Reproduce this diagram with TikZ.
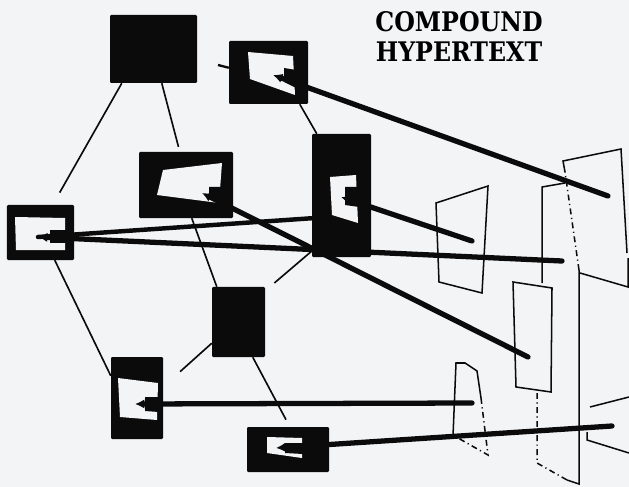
\documentclass[tikz,border=0pt]{standalone}
\usepackage{fontspec}
\usepackage{xcolor}
\usepackage{tikz}
\usetikzlibrary{arrows.meta,calc}
\newfontfamily\cptitle[FakeStretch=0.88]{DejaVu Serif}
\definecolor{CHInk}{HTML}{0B0B0C}
\definecolor{CHPaper}{HTML}{F3F4F6}
\begin{document}
\begin{tikzpicture}[x=0.03cm,y=-0.03cm,
  card/.style={fill=CHInk,draw=none,rounded corners=1pt,inner sep=0pt},
  tree/.style={CHInk,line width=1.4pt},
  link/.style={CHInk,line width=4.5pt,line cap=round},
  linktip/.style={link,{Latex[length=8pt,width=8pt]}-},
  page/.style={CHInk,line width=1.3pt},
  pagedd/.style={page,dash pattern=on 5pt off 3pt on 1pt off 3pt},
  titletext/.style={anchor=base,inner sep=0pt,font=\cptitle\bfseries\fontsize{23}{26}\selectfont}]
\path[use as bounding box] (0,0) rectangle (629,487);
\fill[CHPaper] (0,0) rectangle (629,487);
\node[titletext] (title1) at (459,32) {COMPOUND};
\node[titletext] (title2) at (459,62) {HYPERTEXT};
\node[card,minimum width=2.61cm,minimum height=2.04cm] (A) at (153.5,49) {};
\node[card,minimum width=2.37cm,minimum height=1.89cm] (B) at (268.5,72.5) {};
\node[card,minimum width=2.82cm,minimum height=1.98cm] (C) at (186,185) {};
\node[card,minimum width=2.01cm,minimum height=1.65cm] (D) at (40.5,232.5) {};
\node[card,minimum width=1.77cm,minimum height=3.69cm] (E) at (341.5,195.5) {};
\node[card,minimum width=1.59cm,minimum height=2.10cm] (F) at (238.5,322) {};
\node[card,minimum width=1.56cm,minimum height=2.46cm] (G) at (137,398) {};
\node[card,minimum width=2.46cm,minimum height=1.35cm] (H) at (288,449.5) {};
\fill[CHPaper] (248,52) -- (293,56) -- (295,95) -- (250,79) -- cycle;
\fill[CHInk] (284,68) -- (296,70) -- (296,88) -- (284,82) -- cycle;
\fill[CHPaper] (163,170) -- (222,163) -- (219,203) -- (157,195) -- cycle;
\fill[CHInk] (209,187) -- (221,187) -- (220,204) -- (209,199) -- cycle;
\fill[CHPaper] (15,217) -- (65,218) -- (65,250) -- (16,250) -- cycle;
\fill[CHInk] (50,230) -- (66,230) -- (66,243) -- (50,243) -- cycle;
\fill[CHPaper] (330,177) -- (356,175) -- (358,223) -- (332,215) -- cycle;
\fill[CHInk] (345,187) -- (359,187) -- (359,207) -- (345,205) -- cycle;
\fill[CHPaper] (118,378) -- (158,383) -- (157,420) -- (120,417) -- cycle;
\fill[CHInk] (145,397) -- (159,397) -- (159,412) -- (145,411) -- cycle;
\fill[CHPaper] (267,437) -- (302,438) -- (302,458) -- (267,453) -- cycle;
\fill[CHInk] (285,443) -- (303,443) -- (303,454) -- (285,453) -- cycle;
\coordinate (tipB) at (273,75);
\coordinate (tipC) at (202,193);
\coordinate (tipD) at (38,237);
\coordinate (tipE) at (341,197);
\coordinate (tipG) at (135,404);
\coordinate (tipH) at (276,448);
\coordinate (endB) at (608,196);
\coordinate (endC) at (528,357);
\coordinate (endD) at (562,261);
\coordinate (endE) at (472,241);
\coordinate (endG) at (472,403);
\coordinate (endH) at (612,426);
\coordinate (stubB) at (218,65);
\draw[tree] ($(A.south west)+(12,0)$) -- ($(D.north west)+(46,0)$) [shorten >=0.42cm];
\draw[tree,shorten >=0.15cm] ($(A.south west)+(52,0)$) -- ($(C.north west)+(41,0)$);
\draw[tree] ($(B.south west)+(71,0)$) -- ($(E.north west)+(5,0)$);
\draw[tree] ($(C.south west)+(53,0)$) -- ($(F.north west)+(5,0)$);
\draw[tree,shorten >=0.36cm] ($(E.south west)+(1,-7)$) -- ($(F.north east)+(0,4)$);
\draw[tree,shorten >=0.68cm] ($(F.south west)+(0,-14)$) -- ($(G.north east)+(0,30)$);
\draw[tree,shorten >=0.24cm] ($(F.south west)+(41,0)$) -- ($(H.north west)+(43,0)$);
\draw[tree] ($(D.south west)+(48,0)$) -- ($(G.north west)+(0,19)$);
\draw[CHInk,line width=2pt] (stubB) -- ($(B.north west)+(0,27)$);
\draw[page] (436,203) -- (488,186) -- (482,293) -- (439,282) -- cycle;
\draw[page] (453,436) -- (456,363) -- (465,363) -- (477,371) -- (481,398);
\draw[pagedd] (481,398) -- (488,455) -- (458,438);
\draw[page] (513,282) -- (552,288) -- (551,392) -- (516,387) -- cycle;
\draw[page] (542,283) -- (542,187) -- (565,183);
\draw[pagedd] (537,393) -- (537,463) -- (567,480);
\draw[page] (567,480) -- (579,484) -- (579,270);
\draw[pagedd] (579,270) -- (565,172);
\draw[page] (565,172) -- (563,161) -- (621,149) -- (627,253);
\draw[page] (628,258) -- (628,287) -- (580,273);
\draw[page] (590,407) -- (629,397);
\draw[page] (587,432) -- (587,440) -- (629,453);
\draw[linktip] (tipB) -- (endB);
\draw[linktip] (tipC) -- (endC);
\draw[link,line width=3.8pt] (tipD) -- ($(E.south west)+(0,-39)$);
\draw[linktip] (tipD) -- (endD);
\draw[linktip] (tipE) -- (endE);
\draw[linktip] (tipG) -- (endG);
\draw[linktip] (tipH) -- (endH);
\end{tikzpicture}
\end{document}
